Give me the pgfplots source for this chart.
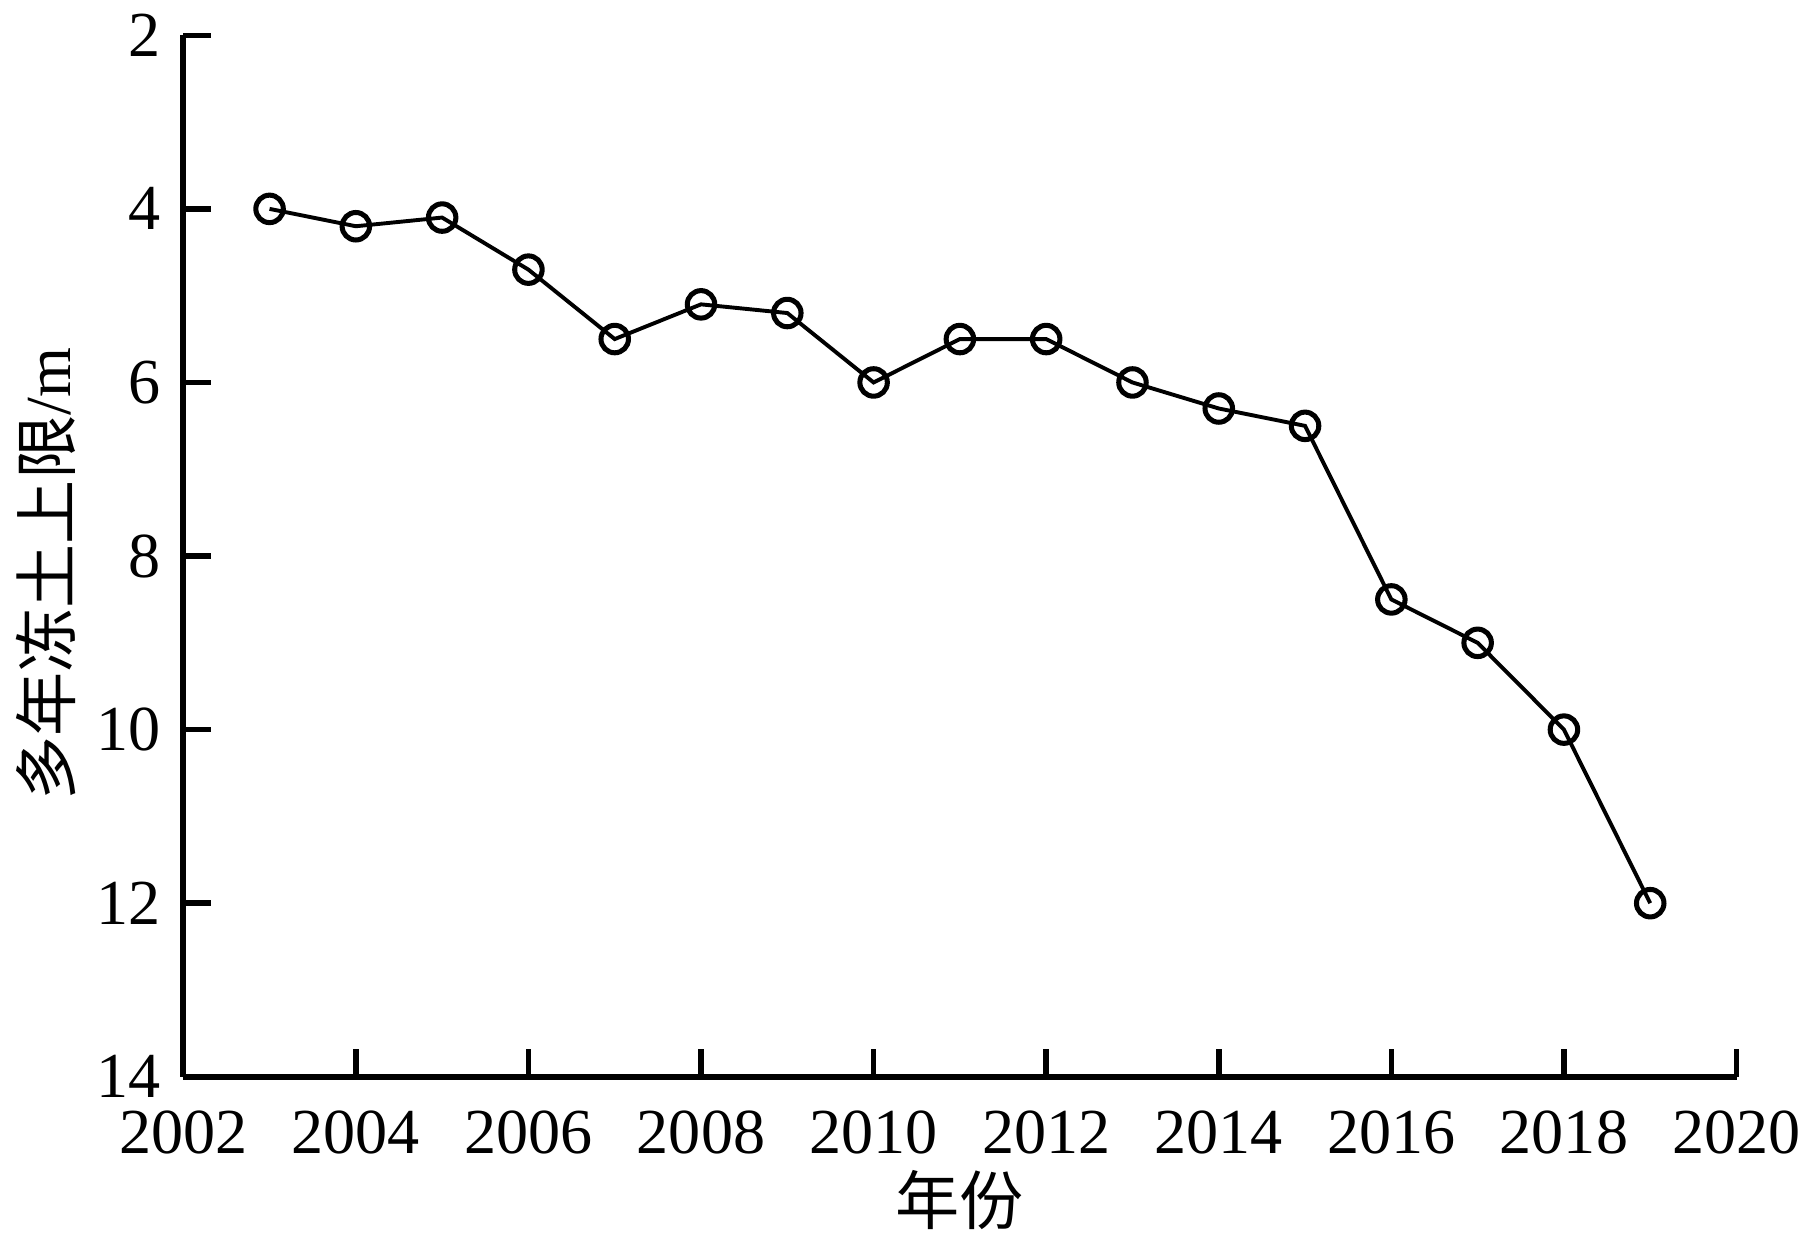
\documentclass[border=0pt]{standalone}
\usepackage{pgfplots}
\pgfplotsset{compat=1.18}
\usepackage{fontspec}
\setmainfont{Liberation Serif}
\newfontfamily\cjk{Noto Sans CJK SC}
\begin{document}
\fontsize{14pt}{17pt}\selectfont
\begin{tikzpicture}
\path[use as bounding box] (0,0) rectangle (397pt,271.6pt);
\begin{axis}[
  at={(40pt,36.6pt)}, anchor=south west,
  scale only axis, width=339pt, height=227.3pt,
  xmin=2002, xmax=2020, ymin=2, ymax=14,
  y dir=reverse,
  xtick={2002,2004,...,2020}, ytick={2,4,...,14},
  axis x line*=bottom, axis y line*=left,
  axis line style={line width=1.3pt, -},
  tick align=inside, major tick length=6pt,
  every tick/.style={line width=1.2pt, black},
  /pgf/number format/assume math mode=true,
  /pgf/number format/1000 sep={},
  ticklabel style={font=\fontsize{14pt}{17pt}\selectfont},
  xticklabel style={yshift=-2.5pt},
  label style={font=\fontsize{14pt}{17pt}\selectfont},
  xlabel={\cjk 年份},
  xlabel style={yshift=6pt},
  ylabel={{\cjk 多年冻土上限}/m},
  ylabel style={yshift=-5pt, xshift=-4pt},
  clip=false,
]
\addplot[black, line width=0.85pt, mark=o, mark size=3pt, mark options={line width=1.1pt}] coordinates {
(2003,4.0) (2004,4.2) (2005,4.1) (2006,4.7) (2007,5.5) (2008,5.1) (2009,5.2)
(2010,6.0) (2011,5.5) (2012,5.5) (2013,6.0) (2014,6.3) (2015,6.5) (2016,8.5)
(2017,9.0) (2018,10.0) (2019,12.0)
};
\end{axis}
\end{tikzpicture}
\end{document}
